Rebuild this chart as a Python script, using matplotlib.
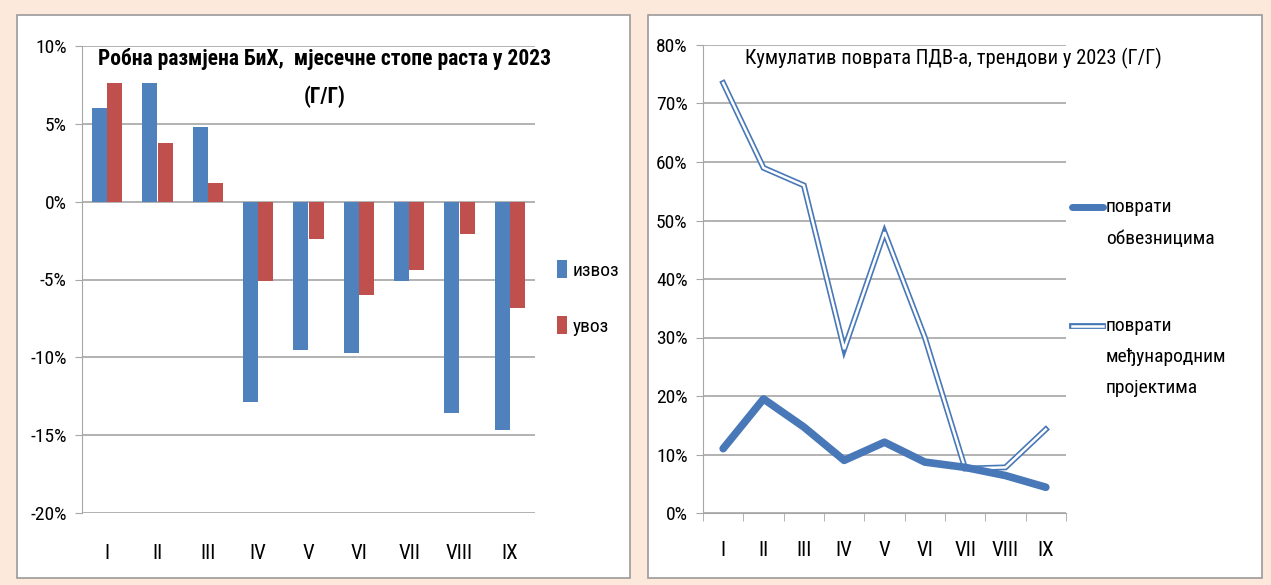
import matplotlib
matplotlib.use("Agg")
import matplotlib.pyplot as plt
from matplotlib.patches import Rectangle
from matplotlib.lines import Line2D
import numpy as np

months = ["I", "II", "III", "IV", "V", "VI", "VII", "VIII", "IX"]
izvoz = [6.0, 7.6, 4.8, -12.9, -9.5, -9.7, -5.1, -13.6, -14.7]
uvoz = [7.6, 3.8, 1.2, -5.1, -2.4, -6.0, -4.4, -2.1, -6.8]
obveznicima = [11.0, 19.5, 14.7, 9.0, 12.1, 8.7, 7.8, 6.4, 4.4]
projektima = [73.5, 59.0, 56.0, 28.0, 48.0, 30.0, 7.6, 7.8, 14.3]

FONT = ["Roboto Condensed", "PT Sans Narrow", "Fira Sans Condensed",
        "Open Sans Condensed", "Ubuntu Condensed", "Archivo Narrow",
        "IBM Plex Sans Condensed", "DejaVu Sans"]
plt.rcParams['font.family'] = FONT

BG = "#FCE9DC"
BLUE = "#4F81BD"
RED = "#C0504D"
LINEBLUE = "#4878B8"
GRID = "#A6A6A6"

W, H = 1271, 585
fig = plt.figure(figsize=(W / 100, H / 100), dpi=100)
fig.patch.set_facecolor(BG)

def px(x0, y0, x1, y1):
    return [x0 / W, 1 - y1 / H, (x1 - x0) / W, (y1 - y0) / H]

# white panels
for (x0, x1) in [(17, 630), (648, 1262)]:
    fig.patches.append(Rectangle((x0 / W, 1 - 578 / H), (x1 - x0) / W, (578 - 15) / H,
                                 transform=fig.transFigure, facecolor="white",
                                 edgecolor="#9A9A9A", linewidth=1.2, zorder=0))

# ---------- left chart ----------
ax1 = fig.add_axes(px(82, 46, 535, 513))
ax1.set_zorder(2)
ax1.set_facecolor("none")
x = np.arange(len(months))
bw = 0.3
ax1.bar(x - bw / 2, izvoz, bw, color=BLUE, label="извоз", zorder=3)
ax1.bar(x + bw / 2, uvoz, bw, color=RED, label="увоз", zorder=3)
ax1.set_xlim(-0.5, len(months) - 0.5)
ax1.set_ylim(-20, 10)
yt = [-20, -15, -10, -5, 0, 5, 10]
ax1.set_yticks(yt)
ax1.set_yticklabels([f"{v}%" for v in yt], fontsize=14)
ax1.yaxis.grid(True, color=GRID, linewidth=1.2, zorder=0)
ax1.set_xticks(x)
ax1.set_xticklabels(months, fontsize=15)
ax1.tick_params(axis="x", length=0, pad=22)
ax1.tick_params(axis="y", length=5, color=GRID, pad=6)
for s in ["top", "right", "bottom"]:
    ax1.spines[s].set_visible(False)
ax1.spines["left"].set_color(GRID)
ax1.set_axisbelow(True)
fig.text(325 / W, 1 - 59 / H, "Робна размјена БиХ,  мјесечне стопе раста у 2023",
         ha="center", va="center", fontsize=15.5, fontweight="bold", zorder=5)
fig.text(325 / W, 1 - 97 / H, "(Г/Г)", ha="center", va="center",
         fontsize=15.5, fontweight="bold", zorder=5)
leg1 = ax1.legend(loc="center left", bbox_to_anchor=(557 / W, 1 - 298 / H),
                  bbox_transform=fig.transFigure, frameon=False, fontsize=14,
                  handlelength=0.5, handleheight=1.0, handletextpad=0.3,
                  labelspacing=1.9, borderpad=0, borderaxespad=0)

# ---------- right chart ----------
ax2 = fig.add_axes(px(703, 45, 1066, 513))
ax2.set_zorder(2)
ax2.set_facecolor("none")
ax2.plot(x, obveznicima, color=LINEBLUE, linewidth=5.5, solid_capstyle="round",
         solid_joinstyle="round", zorder=4)
ax2.plot(x, projektima, color=LINEBLUE, linewidth=4.2, solid_joinstyle="miter",
         zorder=3)
ax2.plot(x, projektima, color="white", linewidth=1.8, solid_joinstyle="miter",
         zorder=3)
ax2.set_xlim(-0.5, len(months) - 0.5)
ax2.set_ylim(0, 80)
yt2 = list(range(0, 81, 10))
ax2.set_yticks(yt2)
ax2.set_yticklabels([f"{v}%" for v in yt2], fontsize=14)
ax2.yaxis.grid(True, color=GRID, linewidth=1.2, zorder=0)
ax2.set_xticks(x)
ax2.set_xticklabels(months, fontsize=15)
ax2.set_xticks(np.arange(-0.5, len(months), 1), minor=True)
ax2.tick_params(axis="x", which="major", length=0, pad=20)
ax2.tick_params(axis="x", which="minor", length=6, color=GRID)
ax2.tick_params(axis="y", length=5, color=GRID, pad=6)
for s in ["top", "right"]:
    ax2.spines[s].set_visible(False)
ax2.spines["left"].set_color(GRID)
ax2.spines["bottom"].set_color(GRID)
ax2.set_axisbelow(True)
fig.text(745 / W, 1 - 58 / H, "Кумулатив поврата ПДВ-а, трендови у 2023 (Г/Г)",
         ha="left", va="center", fontsize=14.8, zorder=5)

# legend for right chart
fig.lines.append(Line2D([1072 / W, 1103 / W], [1 - 207 / H, 1 - 207 / H],
                        transform=fig.transFigure, color=LINEBLUE, linewidth=5,
                        solid_capstyle="round", zorder=5))
fig.lines.append(Line2D([1072 / W, 1103 / W], [1 - 326 / H, 1 - 326 / H],
                        transform=fig.transFigure, color=LINEBLUE, linewidth=4.2, zorder=5))
fig.lines.append(Line2D([1072 / W, 1103 / W], [1 - 326 / H, 1 - 326 / H],
                        transform=fig.transFigure, color="white", linewidth=1.8, zorder=6))
for yy, t in [(207, "поврати"), (239, "обвезницима"), (326, "поврати"),
              (357, "међународним"), (388, "пројектима")]:
    fig.text(1106 / W, 1 - yy / H, t, ha="left", va="center", fontsize=14, zorder=5)

fig.savefig("out.png", dpi=100, facecolor=BG)
